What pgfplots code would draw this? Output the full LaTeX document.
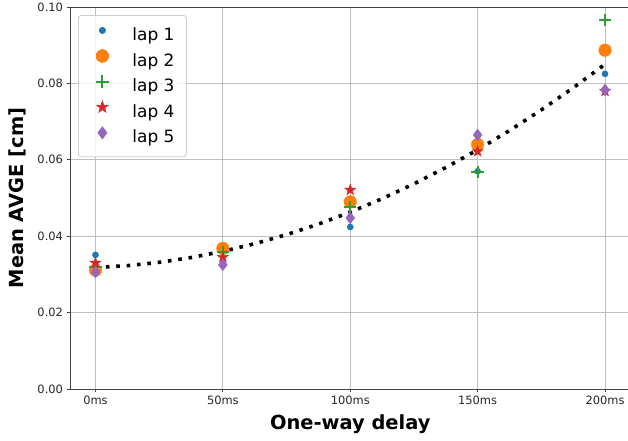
\documentclass[border=0pt]{standalone}
\usepackage{fontspec}
\setmainfont{DejaVu Sans}
\usepackage{pgfplots}
\pgfplotsset{compat=1.18}
\definecolor{tabblue}{RGB}{31,119,180}
\definecolor{taborange}{RGB}{255,127,14}
\definecolor{tabgreen}{RGB}{44,160,44}
\definecolor{tabred}{RGB}{214,39,40}
\definecolor{tabpurple}{RGB}{148,103,189}
\pgfdeclareplotmark{fstar}{%
  \pgfpathmoveto{\pgfqpointpolar{90}{\pgfplotmarksize}}%
  \pgfpathlineto{\pgfqpointpolar{126}{0.4\pgfplotmarksize}}%
  \pgfpathlineto{\pgfqpointpolar{162}{\pgfplotmarksize}}%
  \pgfpathlineto{\pgfqpointpolar{198}{0.4\pgfplotmarksize}}%
  \pgfpathlineto{\pgfqpointpolar{234}{\pgfplotmarksize}}%
  \pgfpathlineto{\pgfqpointpolar{270}{0.4\pgfplotmarksize}}%
  \pgfpathlineto{\pgfqpointpolar{306}{\pgfplotmarksize}}%
  \pgfpathlineto{\pgfqpointpolar{342}{0.4\pgfplotmarksize}}%
  \pgfpathlineto{\pgfqpointpolar{18}{\pgfplotmarksize}}%
  \pgfpathlineto{\pgfqpointpolar{54}{0.4\pgfplotmarksize}}%
  \pgfpathclose
  \pgfusepathqfillstroke}
\begin{document}
\begin{tikzpicture}
\begin{axis}[
  scale only axis, width=560.5bp, height=382bp,
  xmin=-0.2, xmax=4.2, ymin=0, ymax=0.1,
  xtick={0,1,2,3,4}, xticklabels={0ms,50ms,100ms,150ms,200ms},
  ytick={0,0.02,0.04,0.06,0.08,0.1},
  scaled y ticks=false,
  yticklabel style={/pgf/number format/.cd, fixed, fixed zerofill, precision=2},
  /pgf/number format/assume math mode=true,
  ticklabel style={font=\fontsize{11.5}{13}\selectfont, text=black!85},
  tick align=outside, tick pos=left, major tick length=3.5bp,
  tick style={black!75, line width=0.8bp},
  grid=major, major grid style={gray!50, line width=0.9bp},
  axis line style={black!75, line width=0.9bp},
  xlabel={One-way delay}, ylabel={Mean AVGE [cm]},
  label style={font=\fontsize{19.5}{22}\selectfont\bfseries},
  xlabel style={at={(axis description cs:0.5,-0.0916)}, anchor=center},
  ylabel style={at={(axis description cs:-0.0945,0.5)}, anchor=center},
  legend cell align=left,
  legend image code/.code={\path[draw=none, fill=none] (-13bp,-4bp) rectangle (29bp,12bp);
    \draw[#1, fill opacity=1, draw opacity=1, sharp corners] plot coordinates {(0bp,5.5bp)};},
  legend style={at={(0.0143,0.979)}, anchor=north west, draw=black!20, line width=0.8bp,
    rounded corners=3bp, fill=white, fill opacity=0.8, text opacity=1, draw opacity=1,
    font=\fontsize{17}{20}\selectfont, inner xsep=11bp, inner ysep=8.5bp, row sep=3.6bp,
    nodes={text height=12.5bp, text depth=3.5bp, inner ysep=2bp, inner xsep=1bp}},
]
\addplot[only marks, mark=*, mark size=3.1bp, color=tabblue]
  coordinates {(0,0.0351) (1,0.0362) (2,0.0424) (3,0.0570) (4,0.0825)};
\addlegendentry{lap 1}
\addplot[only marks, mark=*, mark size=6.3bp, color=taborange]
  coordinates {(0,0.0311) (1,0.0368) (2,0.0490) (3,0.0640) (4,0.0887)};
\addlegendentry{lap 2}
\addplot[only marks, mark=+, mark size=6.2bp, color=tabgreen, mark options={line width=2bp}]
  coordinates {(0,0.0320) (1,0.0359) (2,0.0477) (3,0.0568) (4,0.0966)};
\addlegendentry{lap 3}
\addplot[only marks, mark=fstar, mark size=5.9bp, color=tabred]
  coordinates {(0,0.0330) (1,0.0345) (2,0.0521) (3,0.0622) (4,0.0780)};
\addlegendentry{lap 4}
\addplot[only marks, mark=diamond*, mark size=5.9bp, color=tabpurple]
  coordinates {(0,0.0306) (1,0.0325) (2,0.0448) (3,0.0665) (4,0.0783)};
\addlegendentry{lap 5}
\addplot[forget plot, black, line width=3.6bp, dash pattern=on 3.6bp off 6.8bp]
  coordinates {(0,0.0318) (0.25,0.03229) (0.5,0.03316) (0.75,0.03440) (1,0.03603)
  (1.25,0.03803) (1.5,0.04041) (1.75,0.04316) (2,0.0463) (2.25,0.04981) (2.5,0.05371)
  (2.75,0.05798) (3,0.06263) (3.25,0.06765) (3.5,0.07306) (3.75,0.07884) (4,0.0850)};
\coordinate (bbl) at (rel axis cs:-0.12489,-0.13613);
\coordinate (btr) at (rel axis cs:0.99554,1.01832);
\end{axis}
\pgfresetboundingbox
\useasboundingbox (bbl) rectangle (btr);
\end{tikzpicture}
\end{document}
